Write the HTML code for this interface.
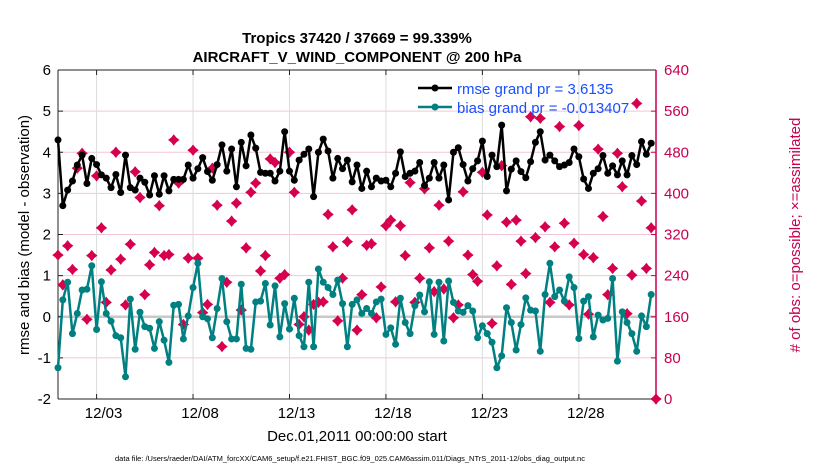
<!DOCTYPE html>
<html><head><meta charset="utf-8"><style>
body{margin:0;background:#fff;}
svg{font-family:"Liberation Sans",sans-serif;display:block;}
</style></head><body>
<svg id="c" width="830" height="470" xmlns="http://www.w3.org/2000/svg">
<rect width="830" height="470" fill="#fff"/>
<text x="357" y="43" text-anchor="middle" font-size="15" font-weight="bold">Tropics 37420 / 37669 = 99.339%</text>
<text x="357" y="62" text-anchor="middle" font-size="15" font-weight="bold">AIRCRAFT_V_WIND_COMPONENT @ 200 hPa</text>
<g id="grid"></g><g id="axes"></g><g id="marks"></g>
<g>
<line x1="418" y1="88" x2="452" y2="88" stroke="#000" stroke-width="2.5"/><circle cx="435" cy="88" r="3.5" fill="#000"/>
<text x="457" y="94" font-size="15" fill="#1a4fff">rmse grand pr = 3.6135</text>
<line x1="418" y1="107" x2="452" y2="107" stroke="#008080" stroke-width="2.5"/><circle cx="435" cy="107" r="3.5" fill="#008080"/>
<text x="457" y="113" font-size="15" fill="#1a4fff">bias grand pr = -0.013407</text>
</g>
<text transform="translate(29,235) rotate(-90)" text-anchor="middle" font-size="15">rmse and bias (model - observation)</text>
<text transform="translate(800,235) rotate(-90)" text-anchor="middle" font-size="15" fill="#c8004f"># of obs: o=possible; ×=assimilated</text>
<text x="357" y="441" text-anchor="middle" font-size="15">Dec.01,2011 00:00:00 start</text>
<text x="350" y="461" text-anchor="middle" font-size="7.5">data file: /Users/raeder/DAI/ATM_forcXX/CAM6_setup/f.e21.FHIST_BGC.f09_025.CAM6assim.011/Diags_NTrS_2011-12/obs_diag_output.nc</text>
</svg>
<script>
const rmse=[4.3,2.7,3.08,3.3,3.69,3.93,3.24,3.85,3.7,3.45,3.37,3.14,3.46,3.02,3.93,3.14,3.08,3.37,3.27,2.96,3.43,2.98,3.43,3.06,3.34,3.34,3.34,3.69,3.37,3.6,3.87,3.53,
3.32,3.7,4.18,3.54,4.08,3.16,4.24,3.67,4.42,4.1,3.51,3.49,3.49,3.3,3.54,4.5,3.54,3.32,3.81,3.95,4.08,2.92,4,4.32,4.03,3.37,3.85,3.6,3.81,3.28,
3.69,3.12,3.54,3.16,3.37,3.3,3.32,3.16,3.49,4.01,3.41,3.49,3.54,3.75,3.19,3.37,3.75,3.37,3.69,2.84,4,4.11,3.7,3.3,3.6,3.79,4.27,3.41,3.93,3.65,4.66,
3.06,3.59,3.79,3.53,3.38,3.77,4.24,4.5,3.81,3.93,3.79,3.65,3.69,3.75,4.08,3.89,3.35,3.12,3.49,3.6,3.92,3.49,3.67,3.45,3.79,3.45,3.92,3.7,4.26,3.95,4.22,null];
const bias=[-1.24,0.41,0.84,-0.41,0.08,0.65,0.67,1.24,-0.31,0.85,0.08,-0.11,-0.46,-0.51,-1.46,0.43,-0.79,0.11,-0.24,-0.28,-0.77,-0.12,-0.57,-1.11,0.28,0.3,-0.54,0.02,0.71,1.3,0,-0.05,
-0.51,0.2,0.93,-0.12,-0.54,-0.54,0.79,-0.77,-0.79,0.36,0.38,0.81,-0.2,0.75,-0.49,0.32,-0.3,0.45,-0.46,-0.73,0.84,-0.73,1.16,0.84,0.71,0.54,0.89,0.32,-0.73,0.3,
0.41,0.08,0.2,0.08,0.36,0.43,-0.43,-0.27,-0.67,0.45,-0.14,-0.41,0.27,0.53,0.12,0.85,-0.43,0.84,-0.59,0.87,0.35,0.14,0.11,0.27,0.14,-0.51,-0.22,-0.41,-0.62,-1.24,-0.95,
0.22,-0.14,-0.81,-0.19,0.46,0.16,0.14,-0.84,0.54,1.3,0.49,0.65,0.38,0.97,0.71,-0.53,0.38,0.49,-0.49,0.04,-0.08,-0.04,0.93,-1.08,0.12,-0.14,-0.41,-0.84,0.02,-0.24,0.54,null];
const nobs=[280,222,298,252,449,478,155,279,434,333,188,251,480,272,183,301,442,392,203,261,285,376,279,281,504,420,145,274,484,274,168,184,
449,377,102,227,346,381,173,294,402,420,249,279,467,460,235,242,480,402,145,160,134,184,188,189,359,296,152,235,306,368,
134,203,299,302,158,218,337,348,189,337,279,421,188,235,409,294,209,377,214,307,158,183,403,280,242,229,441,358,147,259,454,
344,223,348,307,244,549,314,546,335,188,296,530,342,183,303,532,281,165,275,486,355,203,254,478,413,166,241,575,385,254,333,0];
const leftTicks=[-2,-1,0,1,2,3,4,5,6];
const rightTicks=[0,80,160,240,320,400,480,560,640];
const dateTicks=[2,7,12,17,22,27];
const dateLabels=["12/03","12/08","12/13","12/18","12/23","12/28"];
const stepDays=0.25;

const X0=58,X1=656,Y0=70,Y1=399,D0=0,D1=31;
const xs=d=>X0+(d-D0)/(D1-D0)*(X1-X0);
const yl=v=>Y1-(v+2)/8*(Y1-Y0);
const yr=c=>Y1-c/640*(Y1-Y0);
const NS="http://www.w3.org/2000/svg";
function mk(p,tag,at){const e=document.createElementNS(NS,tag);for(const k in at)e.setAttribute(k,at[k]);p.appendChild(e);return e;}
const grid=document.getElementById('grid'),axes=document.getElementById('axes'),marks=document.getElementById('marks');
rightTicks.forEach(c=>{const l=mk(grid,'line',{x1:X0,x2:X1,y1:yr(c),y2:yr(c),stroke:'#f2c6d8','stroke-width':1});

});
dateTicks.forEach((d,i)=>{const l=mk(grid,'line',{x1:xs(d),x2:xs(d),y1:Y0,y2:Y1,stroke:'#dcdcdc','stroke-width':1});


const t=mk(axes,'text',{x:xs(d)+7,y:418,'text-anchor':'middle','font-size':15});t.textContent=dateLabels[i];


mk(axes,'line',{x1:xs(d),x2:xs(d),y1:Y1,y2:Y1-5,stroke:'#222'});mk(axes,'line',{x1:xs(d),x2:xs(d),y1:Y0,y2:Y0+5,stroke:'#222'});});
const zl=mk(grid,'line',{x1:X0,x2:X1,y1:yl(0),y2:yl(0),stroke:'#c8c8c8','stroke-width':2.5});


leftTicks.forEach(v=>{const t=mk(axes,'text',{x:51,y:yl(v)+5,'text-anchor':'end','font-size':15});t.textContent=v;


mk(axes,'line',{x1:X0,x2:X0+5,y1:yl(v),y2:yl(v),stroke:'#222'});});
rightTicks.forEach(c=>{const t=mk(axes,'text',{x:664,y:yr(c)+5,'font-size':15,fill:'#c8004f'});t.textContent=c;


mk(axes,'line',{x1:X1-5,x2:X1,y1:yr(c),y2:yr(c),stroke:'#c8004f'});});
mk(axes,'line',{x1:X0,x2:X1,y1:Y0,y2:Y0,stroke:'#222'});
mk(axes,'line',{x1:X0,x2:X1,y1:Y1,y2:Y1,stroke:'#222'});
mk(axes,'line',{x1:X0,x2:X0,y1:Y0,y2:Y1,stroke:'#222'});
mk(axes,'line',{x1:X1,x2:X1,y1:Y0,y2:Y1,stroke:'#c8004f','stroke-width':1.5});
// obs markers
nobs.forEach((c,i)=>{const x=xs(i*stepDays),y=yr(c);
const p=mk(marks,'path',{d:`M${x-4.5},${y}L${x-2},${y-2}L${x},${y-4.5}L${x+2},${y-2}L${x+4.5},${y}L${x+2},${y+2}L${x},${y+4.5}L${x-2},${y+2}Z`,fill:'#d7004f',stroke:'#d7004f','stroke-width':1.5});

});
function series(arr,col,name){let d='';arr.forEach((v,i)=>{if(v==null)return;d+=(d?'L':'M')+xs(i*stepDays)+','+yl(v);});
const pl=mk(marks,'path',{d:d,fill:'none',stroke:col,'stroke-width':2.5,'stroke-linejoin':'round'});


arr.forEach((v,i)=>{if(v==null)return;const c=mk(marks,'circle',{cx:xs(i*stepDays),cy:yl(v),r:3.5,fill:col});

});}
series(rmse,'#000','rmse');
series(bias,'#008080','bias');
</script>
</body></html>
